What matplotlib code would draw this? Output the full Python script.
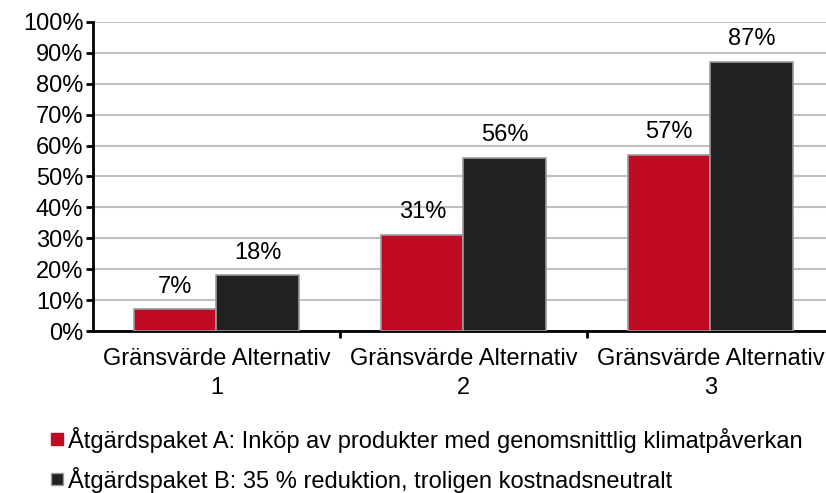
import matplotlib.pyplot as plt
import numpy as np
from matplotlib.lines import Line2D

plt.rcParams['font.family'] = ['Liberation Sans', 'DejaVu Sans']

categories = ['Gränsvärde Alternativ\n1', 'Gränsvärde Alternativ\n2', 'Gränsvärde Alternativ\n3']
series_a = [7, 31, 57]
series_b = [18, 56, 87]
name_a = 'Åtgärdspaket A: Inköp av produkter med genomsnittlig klimatpåverkan'
name_b = 'Åtgärdspaket B: 35 % reduktion, troligen kostnadsneutralt'
yticks = [0, 10, 20, 30, 40, 50, 60, 70, 80, 90, 100]

red = '#C00A23'
dark = '#212121'
edge = '#9a9a9a'
fs = 17

fig = plt.figure(figsize=(8.26, 4.93), dpi=100)
ax = fig.add_axes([0.1126, 0.3286, 0.897, 0.6268])

x = np.arange(len(categories))
w = 0.333
ax.bar(x - w / 2, series_a, w, color=red, edgecolor=edge, linewidth=1.2, zorder=3)
ax.bar(x + w / 2, series_b, w, color=dark, edgecolor=edge, linewidth=1.2, zorder=3)

for xi, v in zip(x - w / 2, series_a):
    ax.text(xi, v + 3.8, '%d%%' % v, ha='center', va='bottom', fontsize=fs)
for xi, v in zip(x + w / 2, series_b):
    ax.text(xi, v + 3.8, '%d%%' % v, ha='center', va='bottom', fontsize=fs)

ax.set_xlim(-0.5, 2.5)
ax.set_ylim(0, 100)
ax.set_yticks(yticks)
ax.set_yticklabels(['%d%%' % t for t in yticks], fontsize=fs)
ax.yaxis.grid(True, color='#c0c0c0', linewidth=1.5, zorder=0)
ax.set_axisbelow(True)

ax.set_xticks(x)
ax.set_xticklabels(categories, fontsize=fs, linespacing=1.45)
ax.tick_params(axis='x', length=0, pad=12)
ax.set_xticks([0.5, 1.5], minor=True)
ax.tick_params(axis='x', which='minor', length=5, width=2, direction='out')
ax.tick_params(axis='y', length=5, width=2, direction='out', pad=2)

for s in ['top', 'right']:
    ax.spines[s].set_visible(False)
ax.spines['left'].set_linewidth(2)
ax.spines['bottom'].set_linewidth(2)

handles = [
    Line2D([], [], marker='s', linestyle='none', markersize=8.5, markerfacecolor=red, markeredgecolor=red),
    Line2D([], [], marker='s', linestyle='none', markersize=8.5, markerfacecolor=dark, markeredgecolor=edge),
]
fig.legend(handles, [name_a, name_b], loc='lower left', bbox_to_anchor=(0.042, -0.033),
           frameon=False, fontsize=fs, handlelength=0.5, handletextpad=0.2,
           labelspacing=0.6, borderaxespad=0.3)

fig.savefig('out.png', dpi=100)
